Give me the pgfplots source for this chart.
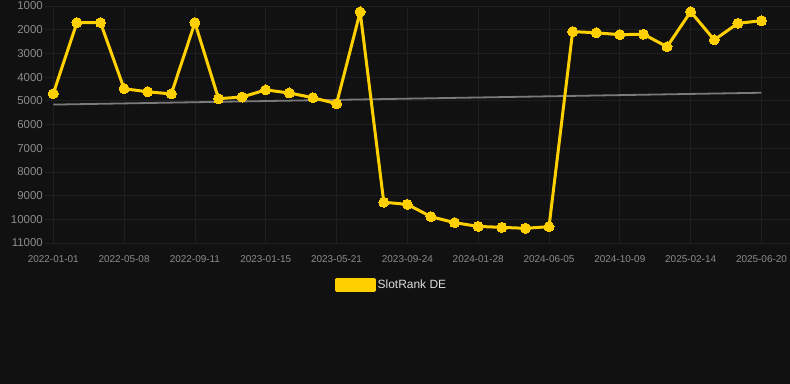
\documentclass[border=0pt]{standalone}
\usepackage{pgfplots}
\pgfplotsset{compat=1.18}
\usepackage{fontspec}
\setmainfont{Liberation Sans}
\definecolor{bg}{HTML}{111111}
\definecolor{gridc}{HTML}{1F1F1F}
\definecolor{ylw}{HTML}{FFD000}
\definecolor{trend}{HTML}{7A7A7A}
\definecolor{ticktxt}{HTML}{8C8C8C}
\definecolor{legtxt}{HTML}{DDDDDD}
\begin{document}
\begin{tikzpicture}
\path[use as bounding box, fill=bg] (0,0) rectangle (790bp,-384bp);
\begin{axis}[
  scale only axis,
  width=745bp, height=237bp,
  anchor=north west, at={(45bp,-6bp)},
  xmin=-14.8, xmax=1317,
  ymin=1000, ymax=11000,
  y dir=reverse,
  axis line style={draw=none},
  major tick length=0pt,
  grid=major,
  grid style={gridc, line width=0.8bp},
  xtick={0,126.6,253.2,379.8,506.4,633,759.6,886.2,1012.8,1139.4,1266},
  xticklabels={2022-01-01,2022-05-08,2022-09-11,2023-01-15,2023-05-21,2023-09-24,2024-01-28,2024-06-05,2024-10-09,2025-02-14,2025-06-20},
  ytick={1000,2000,3000,4000,5000,6000,7000,8000,9000,10000,11000},
  yticklabels={1000,2000,3000,4000,5000,6000,7000,8000,9000,10000,11000},
  xticklabel style={font=\fontsize{10}{10}\selectfont, text=ticktxt, anchor=north, inner sep=0pt, yshift=-12bp},
  yticklabel style={font=\fontsize{11.5}{12}\selectfont, text=ticktxt, anchor=east, inner sep=0pt, xshift=-2bp},
  clip=false,
  legend style={at={(0.465,-0.177)}, anchor=center, draw=none, fill=none,
    text=legtxt, font=\fontsize{12}{12}\selectfont, inner sep=0pt,
    /tikz/every even column/.append style={column sep=0pt}},
  legend image code/.code={\fill[ylw] (0bp,-5.5bp) rectangle (38bp,5.5bp);},
]
\addplot[trend, line width=1.8bp, forget plot] coordinates {(0,5160) (1266,4660)};
\addplot[ylw, line width=3bp, line join=round, mark=*, mark size=5bp, mark options={fill=ylw, draw=ylw, line width=0bp}] coordinates {
(0,4700) (42.2,1700) (84.4,1700) (126.6,4490) (168.8,4620) (211,4710)
(253.2,1700) (295.4,4910) (337.6,4840) (379.8,4540) (422,4670) (464.2,4870)
(506.4,5120) (548.6,1250) (590.8,9280) (633,9370) (675.2,9890) (717.4,10140)
(759.6,10300) (801.8,10340) (844,10380) (886.2,10310) (928.4,2080) (970.6,2130)
(1012.8,2210) (1055,2190) (1097.2,2720) (1139.4,1240) (1181.6,2430) (1223.8,1730)
(1266,1620)};
\addlegendentry{SlotRank DE}
\end{axis}
\end{tikzpicture}
\end{document}
